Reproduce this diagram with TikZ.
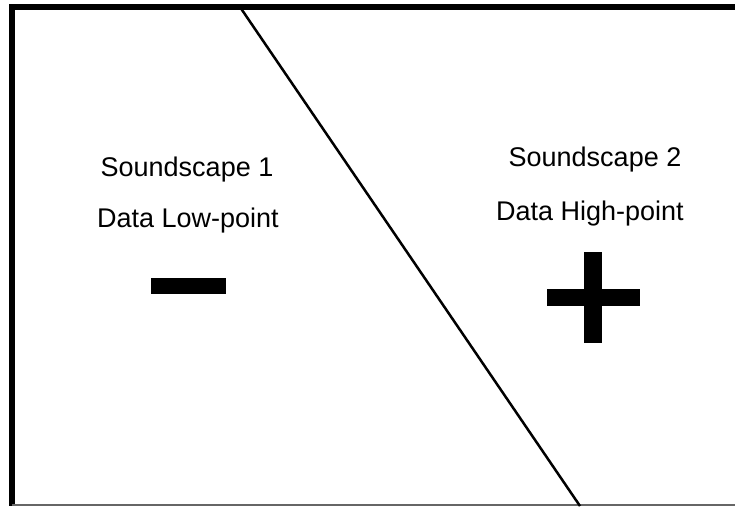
\documentclass[tikz,border=0pt]{standalone}
\usepackage{fontspec}
\setmainfont{Liberation Sans}
\tikzset{
    label/.style={anchor=base, font=\fontsize{27}{32}\selectfont, inner sep=0pt},
    bar/.style={fill=black, draw=none}
}
\begin{document}
\begin{tikzpicture}[x=1pt,y=-1pt]
    \useasboundingbox (0,0) rectangle (735,506);
    % frame, open on the right
    \draw[line width=6pt] (735,7) -- (12,7) -- (12,506);
    \draw[line width=1.5pt, color=gray!80!black] (12,505) -- (735,505);
    % dividing line
    \coordinate (top) at (240,7);
    \coordinate (bottom) at (580,506);
    \draw[line width=2.5pt] (top) -- (bottom);
    % left side
    \node[label] (scape1) at (187,176) {Soundscape 1};
    \node[label] (low) at (188,227) {Data Low-point};
    \fill[bar] (151,278) rectangle (226,294);
    % right side
    \node[label] (scape2) at (595,166) {Soundscape 2};
    \node[label] (high) at (590,220) {Data High-point};
    \fill[bar] (547,289) rectangle (640,306);
    \fill[bar] (584,252) rectangle (602,343);
\end{tikzpicture}
\end{document}
